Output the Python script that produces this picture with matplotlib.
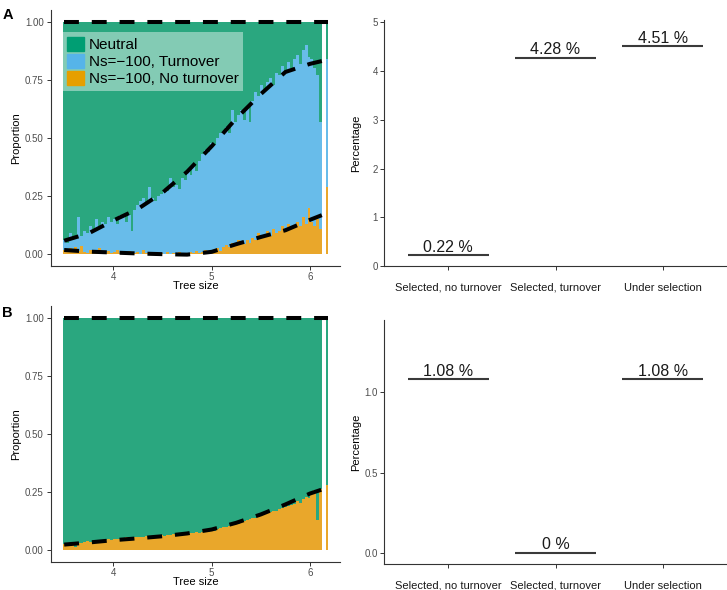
import numpy as np
import matplotlib
matplotlib.use("Agg")
import matplotlib.pyplot as plt
from matplotlib.patches import Patch

plt.rcParams["font.family"] = ["Liberation Sans", "DejaVu Sans"]

# ---- data: left panels (proportions per tree size bin) ----
tree_size = [3.50, 3.53, 3.56, 3.59, 3.62, 3.65, 3.68, 3.71, 3.74, 3.77,
             3.80, 3.83, 3.86, 3.89, 3.92, 3.95, 3.98, 4.01, 4.04, 4.07,
             4.10, 4.13, 4.16, 4.19, 4.22, 4.25, 4.28, 4.31, 4.34, 4.37,
             4.40, 4.43, 4.46, 4.49, 4.52, 4.55, 4.58, 4.61, 4.64, 4.67,
             4.70, 4.73, 4.76, 4.79, 4.82, 4.85, 4.88, 4.91, 4.94, 4.97,
             5.00, 5.03, 5.06, 5.09, 5.12, 5.15, 5.18, 5.21, 5.24, 5.27,
             5.30, 5.33, 5.36, 5.39, 5.42, 5.45, 5.48, 5.51, 5.54, 5.57,
             5.60, 5.63, 5.66, 5.69, 5.72, 5.75, 5.78, 5.81, 5.84, 5.87,
             5.90, 5.93, 5.96, 5.99, 6.02, 6.05, 6.08, 6.11, 6.175]

# panel A: proportion under selection (turnover + no turnover), and no turnover part
a_selected = [0.06, 0.05, 0.09, 0.07, 0.08, 0.16, 0.08, 0.10, 0.09, 0.12,
              0.11, 0.15, 0.12, 0.14, 0.13, 0.16, 0.14, 0.15, 0.13, 0.17,
              0.16, 0.14, 0.17, 0.10, 0.19, 0.21, 0.23, 0.24, 0.22, 0.29,
              0.24, 0.23, 0.25, 0.26, 0.28, 0.27, 0.33, 0.29, 0.30, 0.28,
              0.33, 0.32, 0.36, 0.34, 0.38, 0.36, 0.40, 0.43, 0.45, 0.44,
              0.48, 0.47, 0.50, 0.52, 0.53, 0.55, 0.52, 0.62, 0.57, 0.60,
              0.62, 0.58, 0.64, 0.57, 0.66, 0.70, 0.68, 0.73, 0.71, 0.74,
              0.76, 0.73, 0.78, 0.77, 0.81, 0.79, 0.83, 0.80, 0.84, 0.86,
              0.82, 0.88, 0.90, 0.85, 0.84, 0.80, 0.77, 0.57, 0.84]
a_no_turnover = [0.02, 0.015, 0.025, 0.01, 0.03, 0.015, 0.035, 0.01, 0.005, 0.02,
                 0.01, 0.005, 0.025, 0.01, 0.005, 0.015, 0.005, 0.01, 0.02, 0.005,
                 0.01, 0.005, 0.015, 0.0, 0.005, 0.01, 0.0, 0.02, 0.005, 0.0,
                 0.005, 0.01, 0.0, 0.005, 0.0, 0.01, 0.0, 0.005, 0.0, 0.01,
                 0.0, 0.005, 0.0, 0.01, 0.005, 0.015, 0.005, 0.01, 0.02, 0.01,
                 0.015, 0.01, 0.025, 0.015, 0.03, 0.04, 0.03, 0.05, 0.04, 0.06,
                 0.05, 0.045, 0.06, 0.05, 0.07, 0.06, 0.09, 0.07, 0.08, 0.10,
                 0.08, 0.11, 0.09, 0.10, 0.12, 0.10, 0.13, 0.11, 0.12, 0.14,
                 0.12, 0.16, 0.13, 0.20, 0.14, 0.12, 0.15, 0.11, 0.29]

# panel B: no turnover only
b_no_turnover = [0.025, 0.02, 0.03, 0.028, 0.015, 0.03, 0.033, 0.035, 0.038, 0.035,
                 0.04, 0.038, 0.042, 0.04, 0.045, 0.05, 0.043, 0.048, 0.05, 0.046,
                 0.052, 0.055, 0.05, 0.053, 0.056, 0.055, 0.058, 0.056, 0.06, 0.058,
                 0.062, 0.06, 0.063, 0.065, 0.062, 0.066, 0.064, 0.068, 0.07, 0.066,
                 0.072, 0.07, 0.074, 0.072, 0.075, 0.078, 0.076, 0.08, 0.082, 0.08,
                 0.085, 0.083, 0.09, 0.095, 0.10, 0.098, 0.105, 0.11, 0.115, 0.112,
                 0.12, 0.125, 0.13, 0.135, 0.14, 0.138, 0.145, 0.15, 0.155, 0.16,
                 0.165, 0.17, 0.168, 0.178, 0.18, 0.185, 0.19, 0.195, 0.20, 0.21,
                 0.205, 0.22, 0.23, 0.225, 0.245, 0.26, 0.13, 0.265, 0.28]

# fitted curves (dashed)
fit_x = [3.50, 3.75, 4.00, 4.25, 4.50, 4.75, 5.00, 5.25, 5.50, 5.75, 6.00, 6.12]
fit_a_selected = [0.058, 0.090, 0.145, 0.195, 0.265, 0.355, 0.465, 0.585, 0.690, 0.785, 0.820, 0.832]
fit_a_no_turnover = [0.018, 0.011, 0.007, 0.003, 0.000, -0.002, 0.010, 0.043, 0.074, 0.103, 0.148, 0.168]
fit_b_no_turnover = [0.024, 0.033, 0.043, 0.051, 0.060, 0.072, 0.089, 0.118, 0.154, 0.197, 0.244, 0.261]
fit_top_x = [3.50, 6.18]
fit_top = [1.0, 1.0]

# ---- data: right panels ----
categories = ["Selected, no turnover", "Selected, turnover", "Under selection"]
pct_a = [0.22, 4.28, 4.51]
pct_b = [1.08, 0, 1.08]

# colours
green, blue, orange = "#2AA77F", "#68BCEA", "#E9A72B"
key_green, key_blue, key_orange = "#009E73", "#56B4E9", "#E69F00"

W, H = 727, 590
fig = plt.figure(figsize=(W / 100, H / 100), dpi=100)


def axes_px(left, right, top, bottom):
    return fig.add_axes([left / W, 1 - bottom / H, (right - left) / W, (bottom - top) / H])


def style(ax):
    for s in ["top", "right"]:
        ax.spines[s].set_visible(False)
    for s in ["left", "bottom"]:
        ax.spines[s].set_linewidth(0.8)
        ax.spines[s].set_color("#333333")
    ax.tick_params(length=3, width=0.7, color="#333333", labelcolor="#4D4D4D", labelsize=7)


def dashed(ax, x, y):
    ax.plot(x, y, color="black", lw=2.9, linestyle=(0, (3.7, 3.2)),
            dash_capstyle="butt", zorder=5)


def stacked(ax, bottom_part, selected):
    x = np.array(tree_size)
    o = np.array(bottom_part)
    s = np.array(selected)
    w = [0.03] * (len(x) - 1) + [0.025]
    ax.bar(x, o, width=w, color=orange, linewidth=0)
    ax.bar(x, s - o, bottom=o, width=w, color=blue, linewidth=0)
    ax.bar(x, 1 - s, bottom=s, width=w, color=green, linewidth=0)
    ax.set_xlim(3.363, 6.305)
    ax.set_ylim(-0.051, 1.052)
    ax.set_xticks([4, 5, 6])
    ax.set_yticks([0, 0.25, 0.5, 0.75, 1.0])
    ax.set_yticklabels(["0.00", "0.25", "0.50", "0.75", "1.00"])
    style(ax)
    ax.tick_params(axis="x", pad=1.5)
    ax.tick_params(axis="y", pad=2)
    ax.set_xlabel("Tree size", fontsize=8)
    ax.set_ylabel("Proportion", fontsize=8)
    ax.xaxis.set_label_coords(0.5, -0.058)
    ax.yaxis.set_label_coords(-0.101, 0.5)


def pct_panel(ax, values, ylim, yticks, yticklabels):
    pos = np.arange(len(categories))
    ax.hlines(values, pos - 0.375, pos + 0.375, color="#3A3A3A", lw=1.5)
    for p, v in zip(pos, values):
        ax.annotate(f"{v:g} %", (p, v), xytext=(0, 0.5), textcoords="offset points",
                    ha="center", va="bottom", fontsize=11.5, color="#1A1A1A")
    ax.set_xlim(-0.6, 2.6)
    ax.set_ylim(*ylim)
    ax.set_xticks(pos)
    ax.set_xticklabels(categories)
    ax.set_yticks(yticks)
    ax.set_yticklabels(yticklabels)
    style(ax)
    ax.tick_params(axis="x", pad=9, labelsize=8, labelcolor="#1A1A1A")
    ax.tick_params(axis="y", pad=1.5)
    ax.set_ylabel("Percentage", fontsize=8)
    ax.yaxis.set_label_coords(-0.066, 0.5)


# panel A left
axA = axes_px(50.7, 340, 10, 266)
stacked(axA, a_no_turnover, a_selected)
dashed(axA, fit_top_x, fit_top)
dashed(axA, fit_x, fit_a_selected)
dashed(axA, fit_x, fit_a_no_turnover)
handles = [Patch(color=key_green, label="Neutral"),
           Patch(color=key_blue, label="Ns=\u2212100, Turnover"),
           Patch(color=key_orange, label="Ns=\u2212100, No turnover")]
leg = axA.legend(handles=handles, loc="upper left", bbox_to_anchor=(0.042, 0.914),
                 borderaxespad=0, fontsize=11, handlelength=1.1, handleheight=1.05,
                 handletextpad=0.3, labelspacing=0.12, borderpad=0.3,
                 frameon=True, fancybox=False, framealpha=0.42, edgecolor="none",
                 facecolor="white")
leg.set_zorder(6)

# panel B left
axB = axes_px(50.7, 340, 306, 562)
stacked(axB, b_no_turnover, b_no_turnover)
dashed(axB, fit_top_x, fit_top)
dashed(axB, fit_x, fit_b_no_turnover)

# right panels
axC = axes_px(384, 727, 20, 266)
pct_panel(axC, pct_a, (0, 5.05), [0, 1, 2, 3, 4, 5], ["0", "1", "2", "3", "4", "5"])
axD = axes_px(384, 727, 320, 564)
pct_panel(axD, pct_b, (-0.068, 1.449), [0, 0.5, 1.0], ["0.0", "0.5", "1.0"])

fig.text(7.5 / W, 1 - 15 / H, "A", fontsize=10.5, fontweight="bold", ha="center", va="center")
fig.text(7 / W, 1 - 313 / H, "B", fontsize=10.5, fontweight="bold", ha="center", va="center")

fig.savefig("out.png", dpi=100)
